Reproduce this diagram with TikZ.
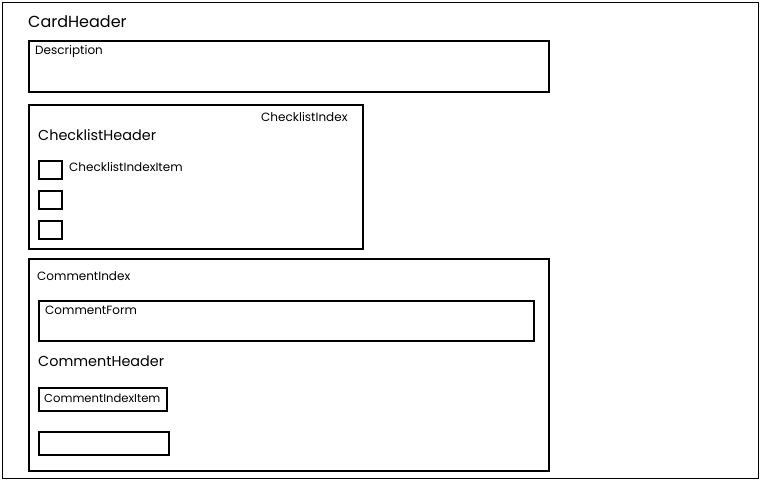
\documentclass[tikz,border=0pt]{standalone}
\usepackage{fontspec}
\setmainfont{Poppins}
\begin{document}
\begin{tikzpicture}[x=1pt,y=-1pt,
  box/.style={draw=black,line width=2pt,rectangle,anchor=north west,inner sep=0pt},
  lbl/.style={anchor=north west,inner sep=0pt,font=\fontsize{12}{14}\selectfont},
  big/.style={anchor=north west,inner sep=0pt,font=\fontsize{14.4}{17}\selectfont},
  huge/.style={anchor=north west,inner sep=0pt,font=\fontsize{16}{18}\selectfont}]
\useasboundingbox (0,0) rectangle (760,480);
\node[box,line width=1.6pt,minimum width=756pt,minimum height=476pt] (frame) at (1.5,1.5) {};
\node[huge] (cardheader) at (28,15) {CardHeader};
\node[box,minimum width=520pt,minimum height=51pt] (desc) at (28,40) {};
\node[lbl] (desctext) at (35,45) {Description};
\node[box,minimum width=334pt,minimum height=144pt] (checklist) at (28,104) {};
\node[lbl] (checklisttext) at (261,112) {ChecklistIndex};
\node[big] (checklisthead) at (38,129) {ChecklistHeader};
\node[box,minimum width=23pt,minimum height=18pt] (cb1) at (38,160) {};
\node[box,minimum width=23pt,minimum height=18pt] (cb2) at (38,190) {};
\node[box,minimum width=23pt,minimum height=18pt] (cb3) at (38,220) {};
\node[lbl] (cbitem) at (69,162) {ChecklistIndexItem};
\node[box,minimum width=520pt,minimum height=212pt] (comments) at (28,258) {};
\node[lbl] (commentstext) at (37,271) {CommentIndex};
\node[box,minimum width=495pt,minimum height=40pt] (form) at (38,300) {};
\node[lbl] (formtext) at (45,306) {CommentForm};
\node[big] (commenthead) at (38,356) {CommentHeader};
\node[box,minimum width=128pt,minimum height=23pt] (item1) at (38,387) {};
\node[lbl,anchor=west,font=\fontsize{11.6}{14}\selectfont] (item1text) at (44,398.5) {CommentIndexItem};
\node[box,minimum width=130pt,minimum height=23pt] (item2) at (38,431) {};
\end{tikzpicture}
\end{document}
